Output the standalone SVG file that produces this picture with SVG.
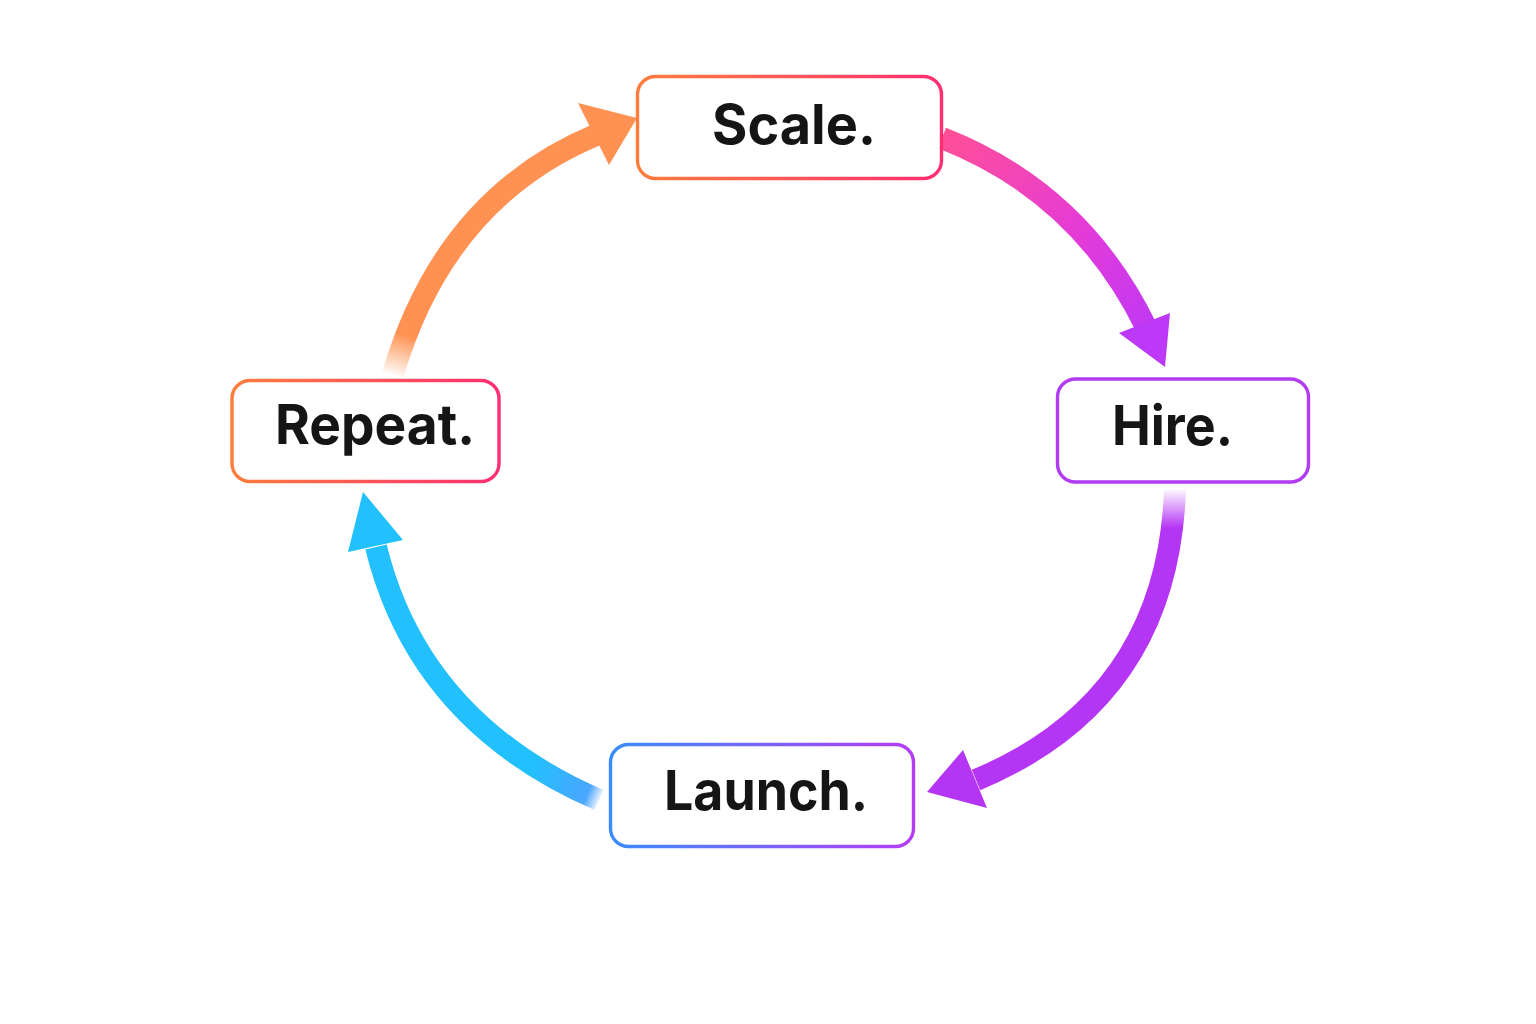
<svg xmlns="http://www.w3.org/2000/svg" width="1536" height="1024" viewBox="0 0 1536 1024">
<defs>
<style>
.box{fill:#ffffff;stroke-width:3.4}
.lbl{font-family:Inter,"Liberation Sans",sans-serif;font-weight:700;font-size:55px;fill:#151515}
.shaft{fill:none;stroke-width:22;stroke-linecap:butt}
</style>
<linearGradient id="gWarm" x1="0" y1="0" x2="1" y2="0">
<stop offset="0" stop-color="#ff7d3c"/>
<stop offset="1" stop-color="#ff2f72"/>
</linearGradient>
<linearGradient id="gCool" x1="0" y1="0" x2="1" y2="0">
<stop offset="0" stop-color="#3a8dff"/>
<stop offset="1" stop-color="#b53cf5"/>
</linearGradient>
<linearGradient id="aOrange" gradientUnits="userSpaceOnUse" x1="390" y1="376" x2="402" y2="334">
<stop offset="0" stop-color="#ff9252" stop-opacity="0"/>
<stop offset="1" stop-color="#ff9252" stop-opacity="1"/>
</linearGradient>
<linearGradient id="aPink" gradientUnits="userSpaceOnUse" x1="945" y1="135" x2="1160" y2="345">
<stop offset="0" stop-color="#ff4f98"/>
<stop offset="0.55" stop-color="#e43bd8"/>
<stop offset="1" stop-color="#bb38f8"/>
</linearGradient>
<linearGradient id="aPurple" gradientUnits="userSpaceOnUse" x1="1175" y1="488" x2="1175" y2="528">
<stop offset="0" stop-color="#b535f5" stop-opacity="0"/>
<stop offset="1" stop-color="#b535f5" stop-opacity="1"/>
</linearGradient>
<linearGradient id="aBlue" gradientUnits="userSpaceOnUse" x1="601" y1="801" x2="530" y2="770">
<stop offset="0" stop-color="#4a9dff" stop-opacity="0"/>
<stop offset="0.2" stop-color="#4aa6ff" stop-opacity="1"/>
<stop offset="1" stop-color="#22c0fc" stop-opacity="1"/>
</linearGradient>
</defs>
<rect width="1536" height="1024" fill="#ffffff"/>
<g id="connectors">
<path class="shaft" stroke="url(#aOrange)" d="M 393 374 Q 445 198 596 135"/>
<polygon fill="#ff9252" points="578,103 637,118 609,165"/>
<path class="shaft" stroke="url(#aPink)" d="M 942 138 Q 1080 192 1146 327"/>
<polygon fill="#bb39f7" points="1119,333 1170,313 1165,367"/>
<path class="shaft" stroke="url(#aPurple)" stroke-width="20" d="M 1175 489 Q 1168 700 976 780"/>
<polygon fill="#b535f5" points="963,750 927,792 987,808"/>
<path class="shaft" stroke="url(#aBlue)" d="M 599 800 Q 419 722 376 547"/>
<polygon fill="#22c0fc" points="363,492 348,552 403,540"/>
</g>
<g id="node-scale">
<rect class="box" stroke="url(#gWarm)" x="637.5" y="76.5" width="304" height="102" rx="18"/>
<text class="lbl" x="712" y="144" textLength="164" lengthAdjust="spacingAndGlyphs">Scale.</text>
</g>
<g id="node-hire">
<rect class="box" stroke="#b23cf2" x="1057.5" y="379" width="251" height="103" rx="18"/>
<text class="lbl" x="1112" y="445" textLength="121" lengthAdjust="spacingAndGlyphs">Hire.</text>
</g>
<g id="node-launch">
<rect class="box" stroke="url(#gCool)" x="610.5" y="744.5" width="303" height="102" rx="18"/>
<text class="lbl" x="664" y="810" textLength="204" lengthAdjust="spacingAndGlyphs">Launch.</text>
</g>
<g id="node-repeat">
<rect class="box" stroke="url(#gWarm)" x="232" y="380.5" width="267" height="101" rx="18"/>
<text class="lbl" x="275" y="444" textLength="200" lengthAdjust="spacingAndGlyphs">Repeat.</text>
</g>
</svg>
